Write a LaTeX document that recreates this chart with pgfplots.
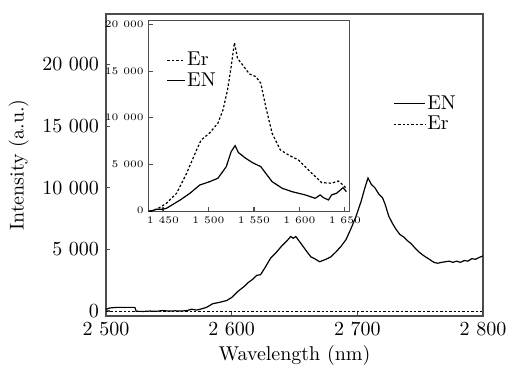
\documentclass[border=0pt]{standalone}
\usepackage{pgfplots}
\pgfplotsset{compat=1.18}
\pgfplotstableread{
x y
2500 140
2503 250
2508 300
2515 300
2523 300
2524 -20
2530 -30
2535 0
2540 -20
2545 40
2550 0
2555 20
2560 0
2565 50
2568 150
2572 80
2575 150
2580 300
2585 600
2590 700
2596 850
2600 1100
2605 1600
2610 2000
2613 2300
2617 2600
2620 2900
2623 2950
2627 3600
2631 4300
2635 4700
2640 5300
2644 5700
2647 6050
2649 5900
2651 6050
2655 5500
2660 4800
2663 4400
2666 4250
2670 4000
2675 4200
2679 4400
2683 4800
2687 5250
2691 5800
2695 6700
2699 7700
2703 8900
2706 10000
2708.5 10800
2711 10300
2714 10000
2717 9500
2720 9200
2722 8700
2725 7700
2728 7100
2731 6600
2734 6200
2737 6000
2740 5700
2743 5450
2746 5100
2749 4800
2752 4550
2755 4350
2758 4150
2761 3950
2764 3880
2767 3950
2770 4000
2773 4050
2776 3950
2779 4050
2782 3950
2785 4100
2788 4050
2791 4250
2794 4200
2797 4350
2800 4470
}\mainEN
\pgfplotstableread{
x y
2500 -60
2600 -60
2700 -60
2800 -60
}\mainEr
\pgfplotstableread{
x y
1436 -100
1445 260
1454 800
1465 1870
1476 4020
1487 6530
1492 7600
1501 8320
1510.4 9400
1516 10830
1521 12980
1525 15480
1528.6 18060
1532 16380
1537.6 15660
1545 14700
1552 14410
1557.6 13700
1563 11180
1570 8320
1579 6530
1588 5990
1599 5450
1613.7 4020
1624.6 3010
1635.4 2950
1642.7 3190
1648 2760
1651.7 2400
}\insEr
\pgfplotstableread{
x y
1434 -100
1443.5 150
1449 150
1454 260
1469 1150
1479.7 1870
1490.5 2760
1501.4 3120
1510.4 3480
1519.6 4730
1525 6340
1529.3 6990
1533 6240
1541 5630
1548.5 5160
1557.6 4730
1563 4020
1570 3120
1581 2410
1592 2040
1606.5 1690
1617.4 1330
1622.8 1690
1626.4 1400
1632 1150
1635.4 1690
1640.9 1870
1648 2470
1651.7 2040
}\insEN
\begin{document}
\begin{tikzpicture}
\begin{axis}[
  name=main,
  scale only axis,
  width=188.5pt, height=151pt,
  xmin=2500, xmax=2800, ymin=-400, ymax=24100,
  xtick={2500,2600,2700,2800},
  ytick={0,5000,10000,15000,20000},
  scaled ticks=false,
  /pgf/number format/1000 sep={\ },
  tick align=inside, xtick pos=left, ytick pos=left,
  major tick length=2pt,
  axis line style={gray!60!black, line width=0.8pt},
  every tick/.style={gray!60!black, line width=0.6pt},
  xlabel={Wavelength (nm)},
  ylabel={Intensity (a.u.)},
  xlabel style={yshift=2pt},
  legend style={draw=none, fill=none, at={(0.745,0.75)}, anchor=north west,
    row sep=0.5pt, nodes={inner sep=0.8pt}},
  legend cell align=left,
  legend image code/.code={\draw[#1] (0cm,0cm) -- (0.55cm,0cm);},
]
\addplot[black, line width=0.6pt] table[x=x,y=y] {\mainEN};
\addlegendentry{EN}
\addplot[black, line width=0.6pt, dash pattern=on 1.2pt off 1pt] table[x=x,y=y] {\mainEr};
\addlegendentry{Er}
\end{axis}
\begin{axis}[
  at={(21.2pt,52.2pt)}, anchor=south west,
  scale only axis,
  width=100.5pt, height=95.5pt,
  xmin=1434, xmax=1655, ymin=-100, ymax=20430,
  xtick={1450,1500,1550,1600,1650},
  ytick={0,5000,10000,15000,20000},
  scaled ticks=false,
  /pgf/number format/1000 sep={\ },
  tick align=inside, xtick pos=left, ytick pos=left,
  major tick length=2.5pt,
  axis background/.style={fill=white},
  axis line style={gray!60!black, line width=0.8pt},
  every tick/.style={gray!60!black, line width=0.6pt},
  tick label style={font=\fontsize{5.2}{6}\selectfont},
  yticklabel style={xshift=1.2pt},
  xticklabel style={yshift=1pt},
  legend style={draw=none, fill=none, at={(0.06,0.87)}, anchor=north west,
    row sep=0pt, nodes={inner sep=1pt}},
  legend cell align=left,
  legend image code/.code={\draw[#1] (0cm,0cm) -- (0.3cm,0cm);},
]
\addplot[black, line width=0.6pt, dash pattern=on 1.2pt off 1pt] table[x=x,y=y] {\insEr};
\addlegendentry{Er}
\addplot[black, line width=0.6pt] table[x=x,y=y] {\insEN};
\addlegendentry{EN}
\end{axis}
\pgfresetboundingbox
\path[use as bounding box] (-53pt,-25.5pt) rectangle (208.5pt,158pt);
\end{tikzpicture}
\end{document}
